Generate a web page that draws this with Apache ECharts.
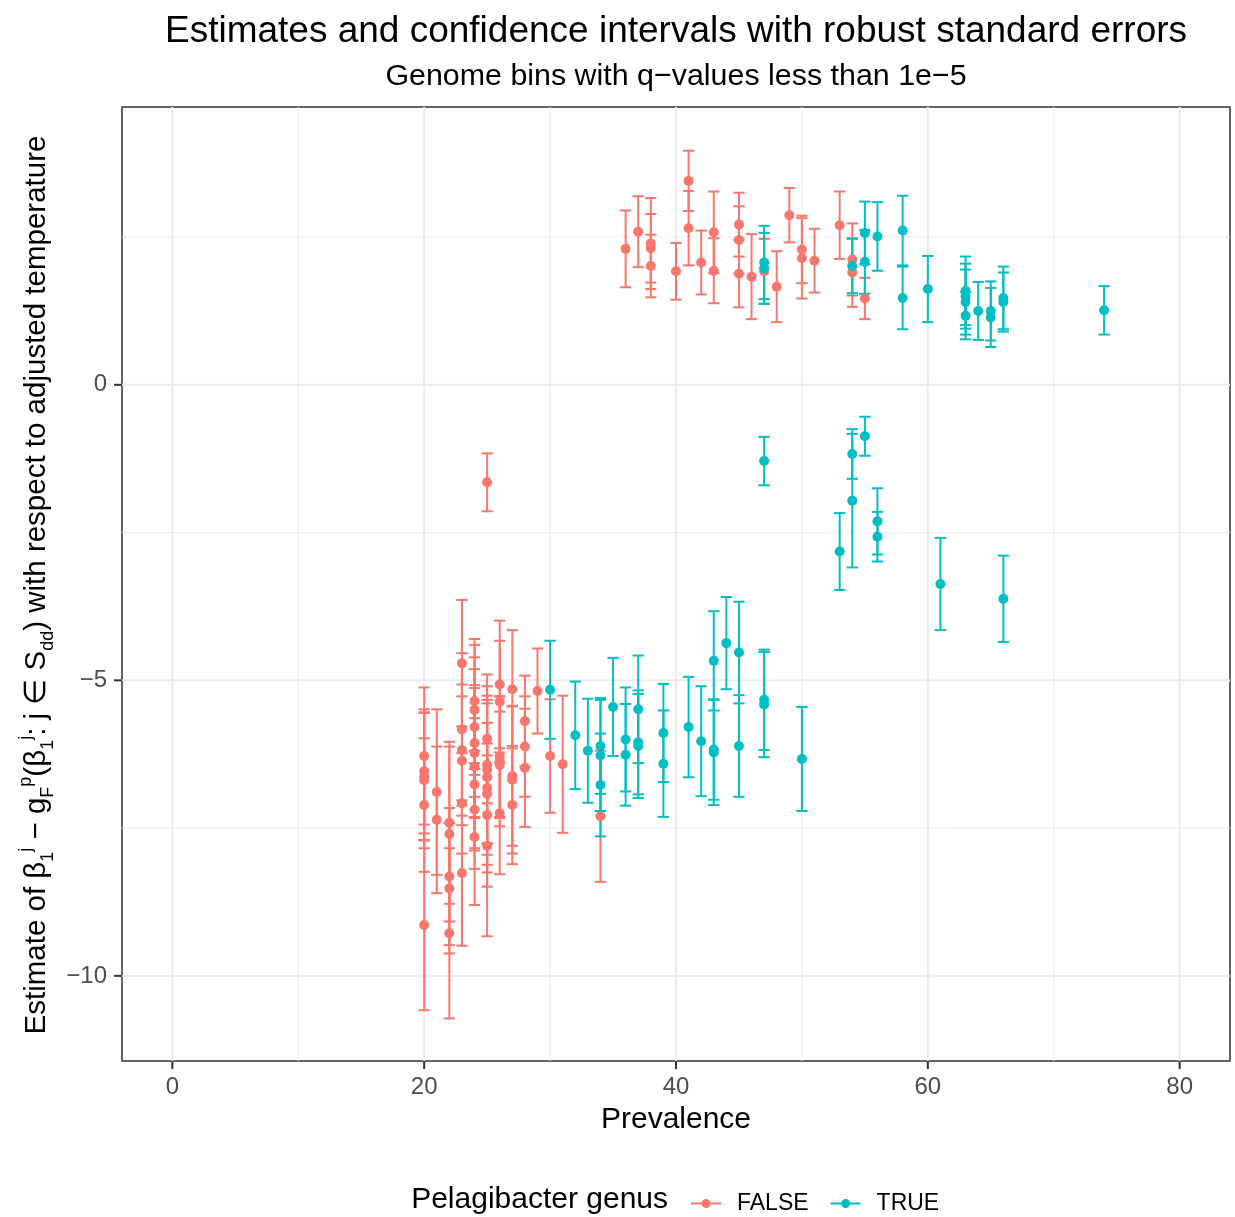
<!DOCTYPE html>
<html>
<head>
<meta charset="utf-8">
<script src="https://cdn.jsdelivr.net/npm/echarts@6/dist/echarts.min.js"></script>
<style>html,body{margin:0;padding:0;background:#fff}#c{width:1235px;height:1217px}</style>
</head>
<body>
<div id="c"></div>
<script>
// ---- data ----
const falseX = [36,37,38,38,38,40,41,41,42,43,43,45,45,45,46,47,48,49,50,50,51,53,54,54,55,
  25,
  20,20,20,20,20,20,
  21,21,
  22,22,22,22,22,
  23,23,23,23,23,23,
  24,24,24,24,24,24,24,24,24,
  25,25,25,25,25,25,25,25,
  26,26,26,26,26,26,
  27,27,27,27,
  28,28,28,
  29,30,31,34];
const falseEst = [2.30,2.59,2.39,2.31,2.01,1.92,3.45,2.65,2.07,2.58,1.93,2.71,2.45,1.88,1.83,1.92,1.66,2.87,2.29,2.14,2.10,2.70,2.12,1.90,1.46,
  -1.65,
  -6.28,-6.54,-6.63,-6.69,-7.11,-9.14,
  -6.89,-7.36,
  -7.41,-7.60,-8.32,-8.52,-9.28,
  -4.71,-5.83,-6.18,-6.36,-7.08,-8.26,
  -5.35,-5.50,-5.79,-6.06,-6.23,-6.46,-6.76,-7.19,-7.65,
  -5.99,-6.43,-6.51,-6.64,-6.82,-6.92,-7.28,-7.80,
  -5.07,-5.36,-6.29,-6.37,-6.43,-7.25,
  -5.15,-6.62,-6.68,-7.11,
  -5.69,-6.12,-6.48,
  -5.18,-6.28,-6.42,-7.30];
const falseErr = [0.65,0.60,0.77,0.58,0.53,0.48,0.51,0.63,0.54,0.69,0.55,0.54,0.57,0.57,0.72,0.55,0.60,0.46,0.57,0.68,0.54,0.57,0.61,0.58,0.35,
  0.49,
  1.16,1.05,1.08,1.15,1.13,1.44,
  1.40,1.24,
  1.37,1.48,1.16,1.10,1.44,
  1.07,1.29,1.11,1.09,0.85,1.23,
  1.05,1.10,1.18,1.25,1.10,1.38,1.12,1.00,1.15,
  1.09,1.33,1.25,1.31,1.43,1.20,1.21,1.53,
  1.08,1.03,1.02,1.10,0.90,1.03,
  1.00,1.18,1.25,1.00,
  0.77,0.85,1.00,
  0.72,0.96,1.16,1.11];

const trueX = [47,47,54,55,55,56,58,58,60,63,63,63,63,64,65,65,66,66,74,
  47,53,54,54,55,56,56,61,66,
  30,32,33,34,34,34,35,36,36,37,37,37,39,39,41,42,43,43,43,44,45,45,47,47,50];
const trueEst = [2.07,1.97,2.01,2.57,2.08,2.51,2.61,1.47,1.62,1.59,1.50,1.40,1.17,1.25,1.25,1.14,1.47,1.40,1.26,
  -1.29,-2.82,-1.17,-1.96,-0.87,-2.31,-2.57,-3.37,-3.62,
  -5.16,-5.93,-6.19,-6.11,-6.27,-6.77,-5.45,-6.00,-6.26,-5.49,-6.05,-6.11,-5.89,-6.41,-5.79,-6.03,-4.67,-6.17,-6.22,-4.37,-4.53,-6.11,-5.33,-5.41,-6.33];
const trueErr = [0.62,0.60,0.46,0.53,0.54,0.58,0.59,0.53,0.56,0.58,0.55,0.55,0.40,0.49,0.50,0.50,0.53,0.50,0.41,
  0.41,0.65,0.42,1.13,0.33,0.56,0.42,0.78,0.73,
  0.83,0.91,0.88,0.81,0.94,0.87,0.83,0.88,0.86,0.91,0.88,0.88,0.83,0.90,0.85,0.93,0.84,0.85,0.89,0.78,0.86,0.86,0.85,0.89,0.88];

const xTicks = [0, 20, 40, 60, 80];
const xMinor = [10, 30, 50, 70];
const yTicks = [-10, -5, 0];
const yMinor = [-7.5, -2.5, 2.5];

const groupNames = ['FALSE', 'TRUE'];
const groupColors = ['#F8766D', '#00BFC4'];

const X_MIN = -4, X_MAX = 84, Y_MIN = -11.44, Y_MAX = 4.70;

// ---- build tables ----
function rows(xs, est, err) {
  return xs.map((x, i) => [x, est[i], est[i] - err[i], est[i] + err[i]]);
}
const falseRows = rows(falseX, falseEst, falseErr);
const trueRows = rows(trueX, trueEst, trueErr);

// [x, y, kind, width] kind: 0 vertical grid, 1 horizontal grid
const gridRows = []
  .concat(xTicks.map(v => [v, 0, 0, 2]))
  .concat(xMinor.map(v => [v, 0, 0, 1]))
  .concat(yTicks.map(v => [0, v, 1, 2]))
  .concat(yMinor.map(v => [0, v, 1, 1]));

const FONT = '"Liberation Sans", Arial, Helvetica, sans-serif';
const minusFmt = v => (v < 0 ? '\u2212' + Math.abs(v) : String(v));

function errorBarSeries(name, color, data) {
  return {
    name: name,
    type: 'custom',
    z: 2,
    itemStyle: { color: color },
    data: data,
    encode: { x: 0, y: [1, 2, 3] },
    renderItem: function (params, api) {
      const x = api.value(0);
      const lo = api.value(2), hi = api.value(3);
      const pLo = api.coord([x, lo]);
      const pHi = api.coord([x, hi]);
      const half = (api.coord([x + 0.45, lo])[0] - pLo[0]);
      const st = { stroke: color, lineWidth: 2 };
      return {
        type: 'group',
        children: [
          { type: 'line', shape: { x1: pLo[0], y1: pLo[1], x2: pHi[0], y2: pHi[1] }, style: st },
          { type: 'line', shape: { x1: pLo[0] - half, y1: pLo[1], x2: pLo[0] + half, y2: pLo[1] }, style: st },
          { type: 'line', shape: { x1: pHi[0] - half, y1: pHi[1], x2: pHi[0] + half, y2: pHi[1] }, style: st }
        ]
      };
    }
  };
}

function pointSeries(name, color, data) {
  return {
    name: name,
    type: 'scatter',
    z: 3,
    symbol: 'circle',
    symbolSize: 10,
    itemStyle: { color: color, opacity: 1 },
    data: data.map(r => [r[0], r[1]])
  };
}

const legendIcon = 'path://M0,3.6L30,3.6L30,5.4L0,5.4Z M19.5,4.5A4.5,4.5,0,1,1,10.5,4.5A4.5,4.5,0,1,1,19.5,4.5Z';

const chart = echarts.init(document.getElementById('c'), null, { renderer: 'canvas' });

const baseGraphics = [
  { id: 'title', type: 'text', x: 676, y: 32, silent: true,
    style: { text: 'Estimates and confidence intervals with robust standard errors', fontSize: 37, fontFamily: FONT, fill: '#000', align: 'center', verticalAlign: 'middle', textAlign: 'center', textVerticalAlign: 'middle' } },
  { id: 'subtitle', type: 'text', x: 676, y: 77, silent: true,
    style: { text: 'Genome bins with q\u2212values less than 1e\u22125', fontSize: 30.4, fontFamily: FONT, fill: '#000', align: 'center', verticalAlign: 'middle', textAlign: 'center', textVerticalAlign: 'middle' } },
  { id: 'legendTitle', type: 'text', x: 668, y: 1200, silent: true,
    style: { text: 'Pelagibacter genus', fontSize: 30, fontFamily: FONT, fill: '#000', align: 'right', verticalAlign: 'middle', textAlign: 'right', textVerticalAlign: 'middle' } },
  { id: 'yTitle', type: 'text', x: 37, y: 585, rotation: Math.PI / 2, silent: true,
    style: {
      text: '{b|Estimate of \u03B2}{sb|1}{sp|j}{b| \u2212 g}{sb|F}{sp|p}{b|(\u03B2}{sb|1}{sp|j}{b|: j \u2208 S}{sb|dd}{b|) with respect to adjusted temperature}',
      fontSize: 29.5, fontFamily: FONT, fill: '#000',
      align: 'center', verticalAlign: 'middle', textAlign: 'center', textVerticalAlign: 'middle',
      rich: {
        b: { fontSize: 29.5, lineHeight: 40, fontFamily: FONT, fill: '#000', color: '#000' },
        sb: { fontSize: 18, lineHeight: 18, verticalAlign: 'bottom', fontFamily: FONT, fill: '#000', color: '#000' },
        sp: { fontSize: 18, lineHeight: 18, verticalAlign: 'top', fontFamily: FONT, fill: '#000', color: '#000' }
      }
    } }
];

const option = {
  animation: false,
  backgroundColor: '#ffffff',
  grid: {
    left: 122, right: 5, top: 107, bottom: 156,
    show: true, borderColor: '#333333', borderWidth: 1.5, backgroundColor: 'transparent'
  },
  xAxis: {
    type: 'value', min: X_MIN, max: X_MAX,
    name: 'Prevalence', nameLocation: 'middle', nameGap: 44,
    nameTextStyle: { fontSize: 30, color: '#000', fontFamily: FONT },
    axisLine: { show: false, onZero: false },
    splitLine: { show: false },
    axisTick: { show: false },
    axisLabel: { customValues: xTicks, formatter: minusFmt, fontSize: 24, color: '#4D4D4D', fontFamily: FONT, margin: 14 }
  },
  yAxis: {
    type: 'value', min: Y_MIN, max: Y_MAX,
    axisLine: { show: false, onZero: false },
    splitLine: { show: false },
    axisTick: { show: false },
    axisLabel: { customValues: yTicks, formatter: minusFmt, fontSize: 24, color: '#4D4D4D', fontFamily: FONT, margin: 15 }
  },
  legend: {
    left: 686, top: 1187,
    orient: 'horizontal',
    itemWidth: 30, itemHeight: 9, itemGap: 22,
    selectedMode: false,
    textStyle: { fontSize: 23, color: '#000', fontFamily: FONT, padding: [0, 0, 0, 11] },
    data: groupNames.map(n => ({ name: n, icon: legendIcon }))
  },
  graphic: baseGraphics,
  series: [
    pointSeries(groupNames[0], groupColors[0], falseRows),
    pointSeries(groupNames[1], groupColors[1], trueRows),
    {
      name: 'grid-lines', type: 'custom', z: 0, silent: true,
      data: gridRows,
      encode: { x: 0, y: 1 },
      renderItem: function (params, api) {
        const cs = params.coordSys;
        const kind = api.value(2);
        const w = api.value(3);
        let shape;
        if (kind === 0) {
          const px = api.coord([api.value(0), 0])[0];
          shape = { x1: px, y1: cs.y, x2: px, y2: cs.y + cs.height };
        } else {
          const py = api.coord([0, api.value(1)])[1];
          shape = { x1: cs.x, y1: py, x2: cs.x + cs.width, y2: py };
        }
        return { type: 'line', shape: shape, style: { stroke: '#EBEBEB', lineWidth: w } };
      }
    },
    errorBarSeries(groupNames[0], groupColors[0], falseRows),
    errorBarSeries(groupNames[1], groupColors[1], trueRows)
  ]
};
chart.setOption(option);

// Tick marks outside the panel, positioned through the chart's own scales
const TICK_LEN = 8;
const tickGraphics = [];
xTicks.forEach((v, i) => {
  const p = chart.convertToPixel({ gridIndex: 0 }, [v, Y_MIN]);
  tickGraphics.push({ id: 'xt' + i, type: 'rect', silent: true, z: 50,
    shape: { x: p[0] - 1, y: p[1], width: 2, height: TICK_LEN },
    style: { fill: '#333333' } });
});
yTicks.forEach((v, i) => {
  const p = chart.convertToPixel({ gridIndex: 0 }, [X_MIN, v]);
  tickGraphics.push({ id: 'yt' + i, type: 'rect', silent: true, z: 50,
    shape: { x: p[0] - TICK_LEN, y: p[1] - 1, width: TICK_LEN, height: 2 },
    style: { fill: '#333333' } });
});
chart.setOption({ graphic: baseGraphics.concat(tickGraphics) });
</script>
</body>
</html>
